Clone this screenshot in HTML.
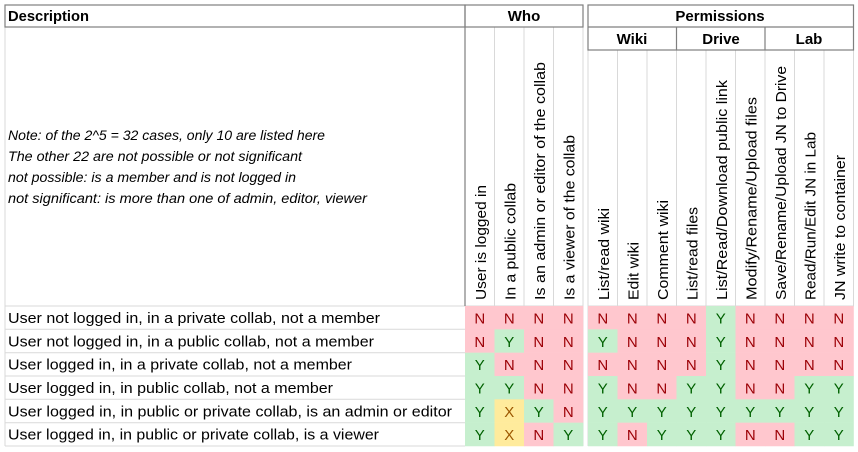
<!DOCTYPE html>
<html><head><meta charset="utf-8"><style>
html,body{margin:0;padding:0;background:#fff}
svg{display:block}
text{font-family:"Liberation Sans",sans-serif}
.h{font-size:15px;font-weight:bold}
.r{font-size:15px}
.l{font-size:15px}
.it{font-size:13.5px;font-style:italic}
</style></head><body>
<svg width="858" height="452" viewBox="0 0 858 452">
<g stroke="#d9d9d9" stroke-width="1">
<line x1="5" y1="306" x2="583" y2="306"/><line x1="588" y1="306" x2="854" y2="306"/>
<line x1="5" y1="329.3" x2="465" y2="329.3"/><line x1="5" y1="352.7" x2="465" y2="352.7"/>
<line x1="5" y1="376" x2="465" y2="376"/><line x1="5" y1="399.3" x2="465" y2="399.3"/>
<line x1="5" y1="422.7" x2="465" y2="422.7"/><line x1="5" y1="446" x2="465" y2="446"/>
<line x1="5" y1="27" x2="5" y2="446"/>
<line x1="494.5" y1="27" x2="494.5" y2="306"/><line x1="524" y1="27" x2="524" y2="306"/><line x1="553.5" y1="27" x2="553.5" y2="306"/><line x1="583" y1="27" x2="583" y2="446"/>
<line x1="617.5" y1="50" x2="617.5" y2="306"/><line x1="647" y1="50" x2="647" y2="306"/><line x1="676.5" y1="50" x2="676.5" y2="306"/><line x1="706" y1="50" x2="706" y2="306"/><line x1="735.5" y1="50" x2="735.5" y2="306"/><line x1="765" y1="50" x2="765" y2="306"/><line x1="794.5" y1="50" x2="794.5" y2="306"/><line x1="824" y1="50" x2="824" y2="306"/><line x1="853.5" y1="50" x2="853.5" y2="306"/>
<line x1="588" y1="50" x2="588" y2="446"/>
</g>
<g stroke="#7f7f7f" stroke-width="1.2" fill="none">
<rect x="5" y="5" width="460" height="22"/>
<rect x="465" y="5" width="118" height="22"/>
<rect x="588" y="5" width="265.5" height="45"/>
<line x1="588" y1="27" x2="853.5" y2="27"/>
<line x1="676.5" y1="27" x2="676.5" y2="50"/>
<line x1="765" y1="27" x2="765" y2="50"/>
<line x1="465" y1="27" x2="465" y2="306"/>
</g>
<text class="h" x="8" y="21" textLength="81" lengthAdjust="spacingAndGlyphs">Description</text>
<text class="h" x="524" y="21" text-anchor="middle">Who</text>
<text class="h" x="720" y="21" text-anchor="middle">Permissions</text>
<text class="h" x="632" y="44" text-anchor="middle">Wiki</text>
<text class="h" x="721" y="44" text-anchor="middle">Drive</text>
<text class="h" x="809" y="44" text-anchor="middle">Lab</text>
<text class="it" x="8" y="140" textLength="317" lengthAdjust="spacingAndGlyphs">Note: of the 2^5 = 32 cases, only 10 are listed here</text>
<text class="it" x="8" y="161" textLength="294" lengthAdjust="spacingAndGlyphs">The other 22 are not possible or not significant</text>
<text class="it" x="8" y="182" textLength="288" lengthAdjust="spacingAndGlyphs">not possible: is a member and is not logged in</text>
<text class="it" x="8" y="203" textLength="359" lengthAdjust="spacingAndGlyphs">not significant: is more than one of admin, editor, viewer</text>
<g class="r">
<text transform="translate(486,300) rotate(-90)" textLength="115" lengthAdjust="spacingAndGlyphs">User is logged in</text>
<text transform="translate(515.5,300) rotate(-90)" textLength="117" lengthAdjust="spacingAndGlyphs">In a public collab</text>
<text transform="translate(545,300) rotate(-90)" textLength="238" lengthAdjust="spacingAndGlyphs">Is an admin or editor of the collab</text>
<text transform="translate(574.5,300) rotate(-90)" textLength="165" lengthAdjust="spacingAndGlyphs">Is a viewer of the collab</text>
<text transform="translate(609,300) rotate(-90)" textLength="92" lengthAdjust="spacingAndGlyphs">List/read wiki</text>
<text transform="translate(638.5,300) rotate(-90)" textLength="58" lengthAdjust="spacingAndGlyphs">Edit wiki</text>
<text transform="translate(668,300) rotate(-90)" textLength="100" lengthAdjust="spacingAndGlyphs">Comment wiki</text>
<text transform="translate(697.5,300) rotate(-90)" textLength="93" lengthAdjust="spacingAndGlyphs">List/read files</text>
<text transform="translate(727,300) rotate(-90)" textLength="220" lengthAdjust="spacingAndGlyphs">List/Read/Download public link</text>
<text transform="translate(756.5,300) rotate(-90)" textLength="203" lengthAdjust="spacingAndGlyphs">Modify/Rename/Upload files</text>
<text transform="translate(786,300) rotate(-90)" textLength="234" lengthAdjust="spacingAndGlyphs">Save/Rename/Upload JN to Drive</text>
<text transform="translate(815.5,300) rotate(-90)" textLength="168" lengthAdjust="spacingAndGlyphs">Read/Run/Edit JN in Lab</text>
<text transform="translate(845,300) rotate(-90)" textLength="145" lengthAdjust="spacingAndGlyphs">JN write to container</text>
</g>
<g class="l">
<text x="8" y="323" textLength="372" lengthAdjust="spacingAndGlyphs">User not logged in, in a private collab, not a member</text>
<text x="8" y="346.3" textLength="366" lengthAdjust="spacingAndGlyphs">User not logged in, in a public collab, not a member</text>
<text x="8" y="369.7" textLength="344" lengthAdjust="spacingAndGlyphs">User logged in, in a private collab, not a member</text>
<text x="8" y="393" textLength="325" lengthAdjust="spacingAndGlyphs">User logged in, in public collab, not a member</text>
<text x="8" y="416.3" textLength="444" lengthAdjust="spacingAndGlyphs">User logged in, in public or private collab, is an admin or editor</text>
<text x="8" y="439.7" textLength="371" lengthAdjust="spacingAndGlyphs">User logged in, in public or private collab, is a viewer</text>
</g>
<g id="cells"></g>
<script>
(function(){
var data=["NNNNNNNNYNNNN","NYNNYNNNYNNNN","YNNNNNNNYNNNN","YYNNYNNYYNNYY","YXYNYYYYYYYYY","YXNYYNYYYNNYY"];
var xs=[465,494.5,524,553.5,588,617.5,647,676.5,706,735.5,765,794.5,824];
var bg={N:"#ffc7ce",Y:"#c6efce",X:"#ffeb9c"};
var fg={N:"#9c0006",Y:"#006100",X:"#9c5700"};
var ns="http://www.w3.org/2000/svg",g=document.getElementById("cells");
for(var r=0;r<6;r++){var y=306+r*23.333;
for(var c=0;c<13;c++){var v=data[r][c];
var re=document.createElementNS(ns,"rect");re.setAttribute("x",xs[c]);re.setAttribute("y",y);re.setAttribute("width",29.8);re.setAttribute("height",23.6);re.setAttribute("fill",bg[v]);g.appendChild(re);
var t=document.createElementNS(ns,"text");t.setAttribute("x",xs[c]+14.75);t.setAttribute("y",y+17.5);t.setAttribute("text-anchor","middle");t.setAttribute("font-size","15");t.setAttribute("fill",fg[v]);t.textContent=v;g.appendChild(t);}}
})();
</script>
</svg>
</body></html>
